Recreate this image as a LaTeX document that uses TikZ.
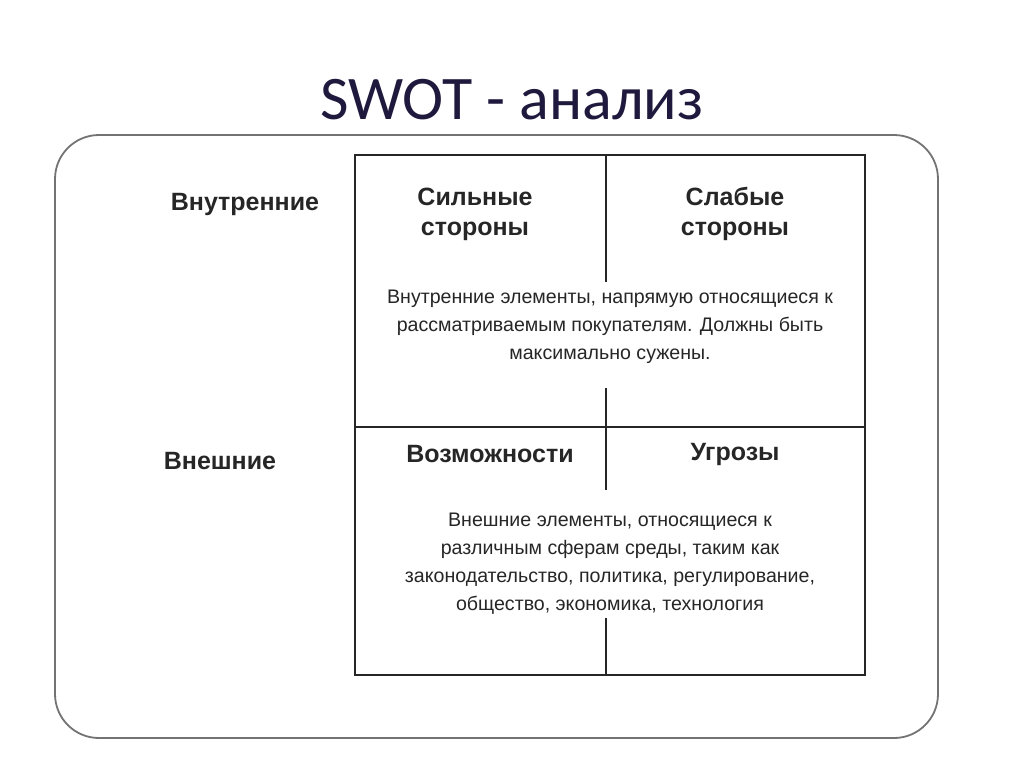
\documentclass[tikz,border=0pt]{standalone}
\usepackage{fontspec}
\setmainfont{Liberation Sans}
\newfontfamily\titlefont{Carlito}
\begin{document}
\begin{tikzpicture}[x=0.5pt,y=-0.5pt,
  lbl/.style={font=\bfseries\fontsize{12.5}{15}\selectfont,align=center,text=black!85},
  body/.style={font=\fontsize{9.8}{14}\selectfont,align=center,text=black!85},
  grid/.style={line width=1.3pt,black!85}]
\useasboundingbox (0,0) rectangle (1024,768);
\node (title) at (512,100) {\titlefont\fontsize{31}{36}\selectfont\color[HTML]{1F1A3D}SWOT - анализ};
\draw[black!55,line width=0.9pt,rounded corners=22pt] (55,135) rectangle (938,738);
\coordinate (tl) at (355,155); \coordinate (br) at (865,675);
\draw[grid] (tl) rectangle (br);
\draw[grid] (355,427) -- (865,427);
\draw[grid] (606,155) -- (606,282);
\draw[grid] (606,388) -- (606,490);
\draw[grid] (606,618) -- (606,675);
\node[lbl] (int) at (245,204) {Внутренние};
\node[lbl] (ext) at (220,461) {Внешние};
\node[lbl] (s) at (475,214) {Сильные\\стороны};
\node[lbl] (w) at (735,214) {Слабые\\стороны};
\node[lbl] (o) at (490,454) {Возможности};
\node[lbl] (t) at (735,454) {Угрозы};
\node[body] (b1) at (610,327) {Внутренние элементы, напрямую относящиеся к\\рассматриваемым покупателям. Должны быть\\максимально сужены.};
\node[body] (b2) at (610,564) {Внешние элементы, относящиеся к\\различным сферам среды, таким как\\законодательство, политика, регулирование,\\общество, экономика, технология};
\end{tikzpicture}
\end{document}
